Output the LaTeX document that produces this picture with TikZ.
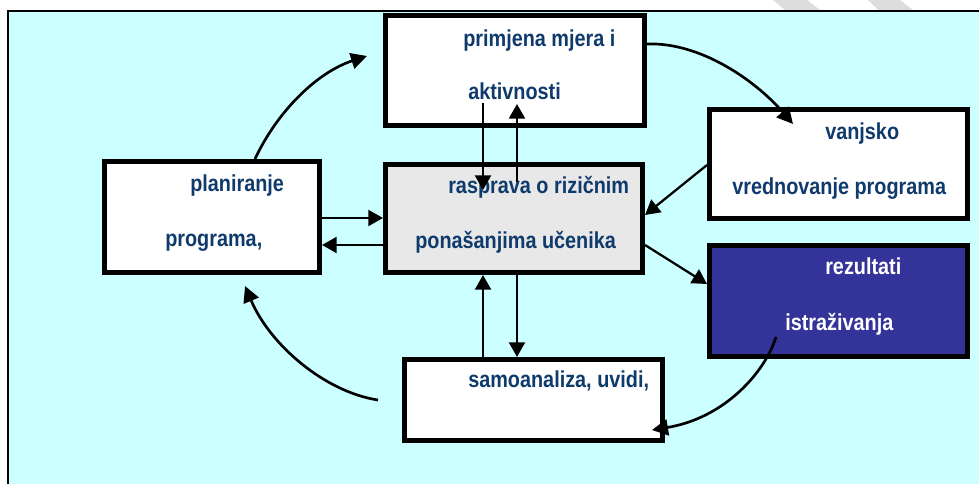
\documentclass[tikz,border=0pt]{standalone}
\usepackage{fontspec}
\setmainfont{Liberation Sans}[FakeStretch=0.86]
\usepackage{xcolor}
\usepackage{tikz}
\usetikzlibrary{arrows.meta}
\definecolor{bgcyan}{HTML}{CCFFFF}
\definecolor{boxgray}{HTML}{E8E8E8}
\definecolor{resblue}{HTML}{333399}
\definecolor{txtnavy}{HTML}{0F3A6C}
\definecolor{stripe}{HTML}{DDDDDD}
\tikzset{
  box/.style={draw=black, line width=3.75pt, fill=white, rectangle, inner sep=0pt},
  txt/.style={anchor=base west, inner sep=0pt, text=txtnavy, font=\fontsize{17.3}{20}\selectfont\bfseries},
  link/.style={line width=1.7pt, -{Triangle[length=11pt,width=12pt]}},
  curv/.style={line width=2pt, -{Triangle[length=12pt,width=12pt]}}
}
\begin{document}
\begin{tikzpicture}[x=0.75pt,y=-0.75pt]
            \useasboundingbox (0,0) rectangle (979,484);
            \fill[stripe] (773,0) -- (807,0) -- (820,10) -- (785,10) -- cycle;
            \fill[stripe] (868,0) -- (900,0) -- (913,10) -- (878,10) -- cycle;
            \fill[bgcyan] (8,11) rectangle (979,484);
            \draw[line width=1.5pt] (8,484) -- (8,11) -- (979,11);

            \node[box, minimum width=194.3pt, minimum height=82.5pt] (prim) at (515,70.5) {};
            \node[box, minimum width=161.3pt, minimum height=83.3pt] (plan) at (212,217) {};
            \node[box, fill=boxgray, minimum width=192.8pt, minimum height=81pt] (rasp) at (514,218.5) {};
            \node[box, minimum width=193.5pt, minimum height=81.8pt] (vanj) at (838.5,164) {};
            \node[box, fill=resblue, minimum width=193.5pt, minimum height=83.3pt] (rez) at (838.5,301) {};
            \node[box, minimum width=193.5pt, minimum height=60.8pt] (samo) at (533.5,400) {};

            \node[txt] (prim1) at (463,47) {primjena mjera i};
            \node[txt] (prim2) at (468,100) {aktivnosti};
            \node[txt] (plan1) at (190,192) {planiranje};
            \node[txt] (plan2) at (165,247) {programa,};
            \node[txt] (rasp1) at (448,194) {rasprava o rizičnim};
            \node[txt] (rasp2) at (415,249) {ponašanjima učenika};
            \node[txt] (vanj1) at (825,140) {vanjsko};
            \node[txt] (vanj2) at (732,195) {vrednovanje programa};
            \node[txt, text=white] (rez1) at (825,275) {rezultati};
            \node[txt, text=white] (rez2) at (785,331) {istraživanja};
            \node[txt] (samo1) at (468,388) {samoanaliza, uvidi,};

            \coordinate (primTo) at (367,56);
            \coordinate (vanjTo) at (793,124);
            \coordinate (rezFrom) at (776,337);
            \coordinate (samoTo) at (652,430);
            \coordinate (samoFrom) at (378,400);
            \coordinate (planTo) at (245,286);

            \draw[link] (plan.east |- 0,218) -- (rasp.west |- 0,218);
            \draw[link] (rasp.west |- 0,245) -- (plan.east |- 0,245);
            \draw[link] (483,103) -- (483,190);
            \draw[link] (517,182) -- (517,104);
            \draw[link] (rasp.south -| 517,0) -- (samo.north -| 517,0);
            \draw[link] (samo.north -| 483,0) -- (rasp.south -| 483,0);
            \draw[link] (vanj.west |- 0,165) -- (rasp.east |- 0,215);
            \draw[link] (rasp.east |- 0,245) -- (rez.west |- 0,284);

            \draw[curv] (plan.north -| 255,0) .. controls (278,110) and (318,72) .. (primTo);
            \draw[curv] (prim.east |- 0,44) .. controls (700,42) and (755,80) .. (vanjTo);
            \draw[curv] (rezFrom) .. controls (765,372) and (725,418) .. (samoTo);
            \draw[curv] (samoFrom) .. controls (325,392) and (270,345) .. (planTo);
        \end{tikzpicture}
\end{document}
